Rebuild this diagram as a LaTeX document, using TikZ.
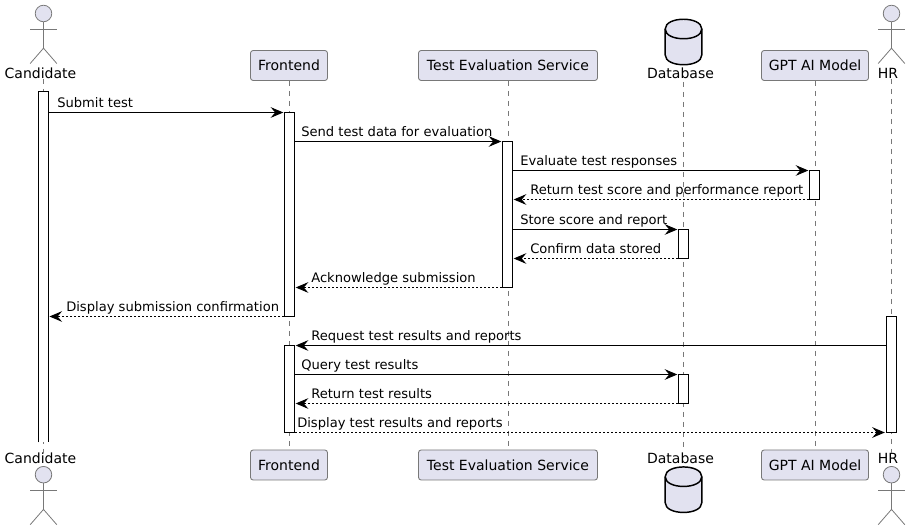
\documentclass[tikz,border=0pt]{standalone}
\usepackage{fontspec}
\setmainfont{DejaVu Sans}
\usetikzlibrary{arrows.meta}
\definecolor{headfill}{HTML}{E2E2F0}
\definecolor{headline}{HTML}{787878}
\tikzset{
	headbox/.style={draw=headline, line width=0.65pt, fill=headfill, rounded corners=2pt, minimum height=22.5pt, inner sep=0pt, font=\fontsize{10.5}{12}\selectfont},
	headtext/.style={inner sep=0pt, anchor=base, font=\fontsize{10.5}{12}\selectfont},
	actorhead/.style={circle, draw=headline, line width=0.6pt, fill=headfill, minimum size=12.4pt, inner sep=0pt},
	actorline/.style={draw=headline, line width=0.6pt},
	dbline/.style={draw=black, line width=1.1pt, fill=headfill},
	life/.style={draw=headline, line width=0.6pt, dash pattern=on 3.75pt off 3.75pt},
	actbar/.style={draw=black, line width=0.75pt, fill=white, minimum width=7.5pt, inner sep=0pt},
	openbar/.style={fill=white, minimum width=7.5pt, inner sep=0pt},
	msg/.style={draw=black, line width=0.75pt, shorten >=0.5pt, -{Stealth[length=9.5pt,width=8pt,inset=3.4pt]}},
	ret/.style={msg, dash pattern=on 1.5pt off 1.5pt},
	msgtext/.style={inner sep=0pt, anchor=base west, font=\fontsize{9.82}{12}\selectfont}
}
%activation bar: name, x, top, bottom
\newcommand{\actbox}[5][actbar]{\node[#1, minimum height={(#5-#4)*0.75pt}] (#2) at (#3,{(#4+#5)/2}) {};}
%actor figure: name, x, centre of head
\newcommand{\actorfig}[3]{
	\node[actorhead] (#1) at (#2,#3) {};
	\draw[actorline] (#1.south) -- (#2,#3+34.7);
	\draw[actorline] (#2-13.3,#3+16) -- (#2+13.3,#3+16);
	\draw[actorline] (#2-13.3,#3+50) -- (#2,#3+34.7) -- (#2+13.3,#3+50);
}
%database cylinder: x, top
\newcommand{\dbfig}[2]{
	\draw[dbline] (#1-18.3,#2+10) .. controls (#1-18.3,#2-3) and (#1+18.3,#2-3) .. (#1+18.3,#2+10)
		-- (#1+18.3,#2+36) .. controls (#1+18.3,#2+49) and (#1-18.3,#2+49) .. (#1-18.3,#2+36) -- cycle;
	\draw[dbline, fill=none] (#1-18.3,#2+10) .. controls (#1-18.3,#2+23) and (#1+18.3,#2+23) .. (#1+18.3,#2+10);
}
\begin{document}
\begin{tikzpicture}[x=0.75pt, y=-0.75pt]
	\useasboundingbox (0,0) rectangle (910,530);

	%participants, top row
	\actorfig{candFig}{43.5}{13.5}
	\node[headtext] (candTop) at (40.5,78.5) {Candidate};
	\node[headbox, minimum width=57.75pt] (frontTop) at (289,65.5) {Frontend};
	\node[headbox, minimum width=134.25pt] (evalTop) at (508,65.5) {Test Evaluation Service};
	\dbfig{683.5}{19}
	\node[headtext] (dbTop) at (680.5,78.5) {Database};
	\node[headbox, minimum width=80.25pt] (gptTop) at (815,65.5) {GPT AI Model};
	\actorfig{hrFig}{891.5}{13.5}
	\node[headtext] (hrTop) at (888,78.5) {HR};

	%participants, bottom row
	\node[headtext] (candBot) at (40.5,463.5) {Candidate};
	\actorfig{candFigB}{43.5}{474.7}
	\node[headbox, minimum width=57.75pt] (frontBot) at (289,465) {Frontend};
	\node[headbox, minimum width=134.25pt] (evalBot) at (508,465) {Test Evaluation Service};
	\node[headtext] (dbBot) at (680.5,463.5) {Database};
	\dbfig{683.5}{466.7}
	\node[headbox, minimum width=80.25pt] (gptBot) at (815,465) {GPT AI Model};
	\node[headtext] (hrBot) at (888,463.5) {HR};
	\actorfig{hrFigB}{891.5}{474.7}

	%lifelines
	\draw[life] (candFig |- candTop.south) -- (candFig |- candBot.north);
	\draw[life] (frontTop.south) -- (frontBot.north);
	\draw[life] (evalTop.south) -- (evalBot.north);
	\draw[life] (683.5,82) -- (683.5,448);
	\draw[life] (gptTop.south) -- (gptBot.north);
	\draw[life] (hrFig |- hrTop.south) -- (hrFig |- hrBot.north);

	%activation bars
	\actbox[openbar]{candBar}{43.5}{91.5}{442}
	\draw[draw=black, line width=0.75pt] (candBar.south west) -- (candBar.north west) -- (candBar.north east) -- (candBar.south east);
	\actbox{frontBarA}{289.5}{112.5}{316.5}
	\actbox{frontBarB}{289.5}{345.5}{432.5}
	\actbox{evalBar}{507.5}{141.5}{287.5}
	\actbox{dbBarA}{683.5}{229.5}{258.5}
	\actbox{dbBarB}{683.5}{374.5}{403.5}
	\actbox{gptBar}{814.5}{170.5}{199.5}
	\actbox{hrBar}{891}{316.5}{432.5}

	%messages
	\draw[msg] (candBar.east |- 0,112.5) -- (frontBarA.west |- 0,112.5);
	\node[msgtext] (m1) at (57,107.5) {Submit test};
	\draw[msg] (frontBarA.east |- 0,141.5) -- (evalBar.west |- 0,141.5);
	\node[msgtext] (m2) at (301,136.5) {Send test data for evaluation};
	\draw[msg] (evalBar.east |- 0,170.5) -- (gptBar.west |- 0,170.5);
	\node[msgtext] (m3) at (520,165.5) {Evaluate test responses};
	\draw[ret] (gptBar.west |- 0,199.5) -- (evalBar.east |- 0,199.5);
	\node[msgtext] (m4) at (530,194.5) {Return test score and performance report};
	\draw[msg] (evalBar.east |- 0,229.5) -- (dbBarA.west |- 0,229.5);
	\node[msgtext] (m5) at (520,224.5) {Store score and report};
	\draw[ret] (dbBarA.west |- 0,258.5) -- (evalBar.east |- 0,258.5);
	\node[msgtext] (m6) at (530,253.5) {Confirm data stored};
	\draw[ret] (evalBar.west |- 0,287.5) -- (frontBarA.east |- 0,287.5);
	\node[msgtext] (m7) at (311,282.5) {Acknowledge submission};
	\draw[ret] (frontBarA.west |- 0,316.5) -- (candBar.east |- 0,316.5);
	\node[msgtext] (m8) at (66,311.5) {Display submission confirmation};
	\draw[msg] (hrBar.west |- 0,345.5) -- (frontBarB.east |- 0,345.5);
	\node[msgtext] (m9) at (311,340.5) {Request test results and reports};
	\draw[msg] (frontBarB.east |- 0,374.5) -- (dbBarB.west |- 0,374.5);
	\node[msgtext] (m10) at (301,369.5) {Query test results};
	\draw[ret] (dbBarB.west |- 0,403.5) -- (frontBarB.east |- 0,403.5);
	\node[msgtext] (m11) at (311,398.5) {Return test results};
	\draw[ret] (frontBarB.east |- 0,432.5) -- (hrBar.west |- 0,432.5);
	\node[msgtext] (m12) at (297,427.5) {Display test results and reports};

\end{tikzpicture}
\end{document}
